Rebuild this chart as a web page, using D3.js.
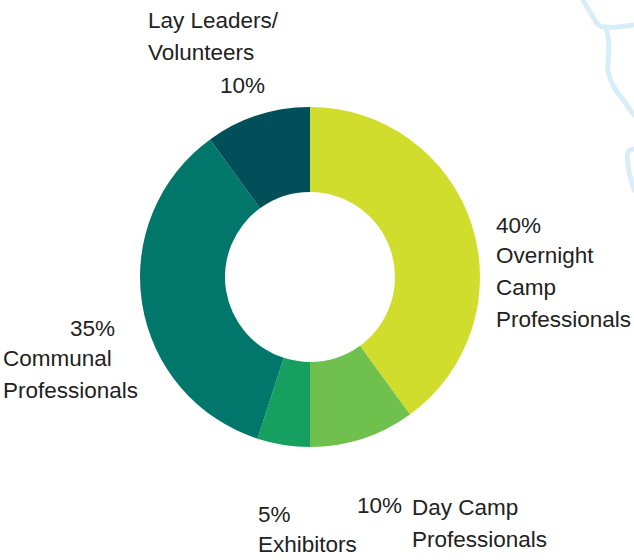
<!DOCTYPE html>
<html>
<head>
<meta charset="utf-8">
<script src="https://cdn.jsdelivr.net/npm/d3@7"></script>
<style>
  html, body { margin: 0; padding: 0; background: #fff; }
  svg { display: block; }
</style>
</head>
<body>
<svg id="donut_svg"></svg>
<script>
// slices, clockwise from 12 o'clock
const categories = ["Overnight Camp Professionals", "Day Camp Professionals", "Exhibitors", "Communal Professionals", "Lay Leaders/Volunteers"];
const values = [40, 10, 5, 35, 10];
const colors = ["#d1dd2c", "#70c04e", "#16a060", "#00776a", "#014f58"];

// label text lines for each slice (percent line is built from values)
const labelLines = [
  ["Overnight", "Camp", "Professionals"],
  ["Day Camp", "Professionals"],
  ["Exhibitors"],
  ["Communal", "Professionals"],
  ["Lay Leaders/", "Volunteers"]
];

const width = 634,
  height = 560;
const cx = 310,
  cy = 277,
  outerR = 170,
  innerR = 85;

const svg = d3.select("#donut_svg").attr("width", width).attr("height", height);

// faint map outline in the corner (decoration)
const mapLines = [
  [[583, 0], [592, 15], [600, 26], [634, 25]],
  [[606, 27], [609, 45], [608, 70], [614, 87], [626, 104], [634, 115]],
  [[634, 149], [628, 152], [628, 165], [631, 180], [634, 190]]
];
const mapLine = d3.line().curve(d3.curveCatmullRom);
svg
  .append("g")
  .selectAll("path")
  .data(mapLines)
  .join("path")
  .attr("d", mapLine)
  .attr("fill", "none")
  .attr("stroke", "#d7eef9")
  .attr("stroke-width", 5)
  .attr("stroke-linecap", "round")
  .attr("stroke-linejoin", "round");

const pie = d3.pie().sort(null).value((d) => d);
const arc = d3.arc().innerRadius(innerR).outerRadius(outerR);

const g = svg.append("g").attr("transform", `translate(${cx},${cy})`);
g.selectAll("path")
  .data(pie(values))
  .join("path")
  .attr("d", arc)
  .attr("fill", (d, i) => colors[i]);

// where each label block goes: x, first baseline, percent placement
const labelLayout = [
  { x: 496, y: 233, pct: "above" },
  { x: 412, y: 515, pct: "left", px: 402 },
  { x: 258, y: 522, pct: "above" },
  { x: 3, y: 336, pct: "above", px: 115 },
  { x: 148, y: 28, pct: "below", px: 265 }
];
const lineH = 32;

const labels = svg
  .append("g")
  .attr("font-family", "'Liberation Sans', Arial, sans-serif")
  .attr("font-size", "22.5px")
  .attr("fill", "#222");

labelLayout.forEach((l, i) => {
  const pctText = values[i] + "%";
  let y = l.y;
  if (l.pct === "above") {
    labels
      .append("text")
      .attr("x", l.px !== undefined ? l.px : l.x)
      .attr("y", y)
      .attr("text-anchor", l.px !== undefined ? "end" : "start")
      .text(pctText);
    y += lineH - 2;
  } else if (l.pct === "left") {
    labels
      .append("text")
      .attr("x", l.px)
      .attr("y", y - 2)
      .attr("text-anchor", "end")
      .text(pctText);
  }
  labelLines[i].forEach((t, j) => {
    labels
      .append("text")
      .attr("x", l.x)
      .attr("y", y + j * lineH)
      .text(t);
  });
  if (l.pct === "below") {
    labels
      .append("text")
      .attr("x", l.px)
      .attr("y", y + labelLines[i].length * lineH + 1)
      .attr("text-anchor", "end")
      .text(pctText);
  }
});
</script>
</body>
</html>
